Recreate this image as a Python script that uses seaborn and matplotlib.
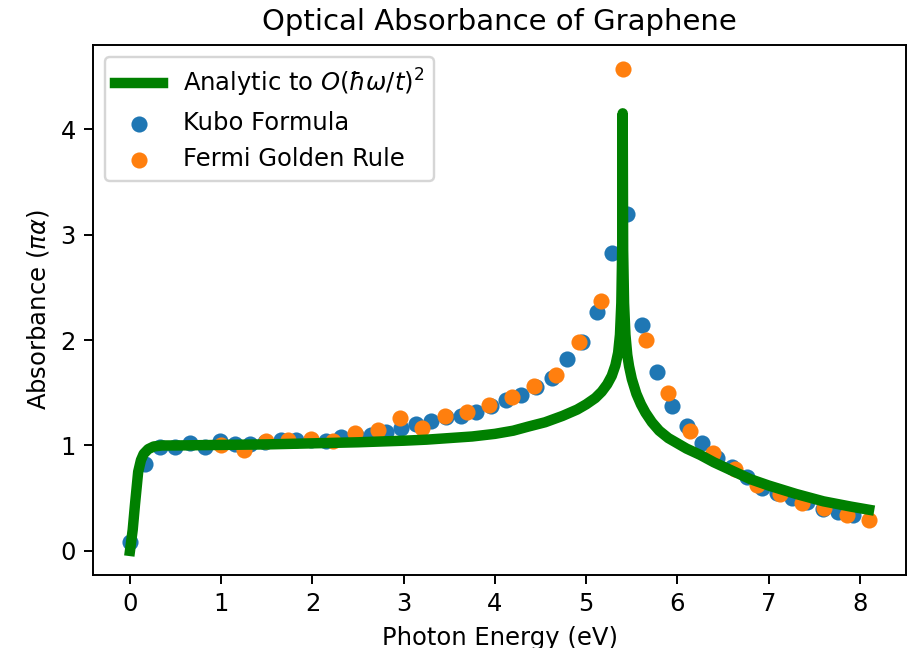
import matplotlib
matplotlib.use("Agg")
import matplotlib.pyplot as plt
import seaborn as sns
import pandas as pd

# Analytic curve
analytic_x = [0.0, 0.03, 0.055, 0.09, 0.12, 0.15, 0.2, 0.26, 0.35, 0.5, 1.0, 1.5, 2.0,
              2.5, 3.0, 3.25, 3.5, 3.75, 4.0, 4.2, 4.37, 4.55, 4.74, 4.9, 5.0, 5.1, 5.17,
              5.23, 5.28, 5.32, 5.35, 5.37, 5.385, 5.395, 5.40, 5.405, 5.415, 5.43, 5.45,
              5.47, 5.5, 5.55, 5.6, 5.65, 5.72, 5.8, 5.9, 6.0, 6.1, 6.25, 6.4, 6.6, 6.8,
              7.0, 7.3, 7.6, 7.9, 8.1]
analytic_y = [0.0, 0.2, 0.44, 0.75, 0.86, 0.92, 0.965, 0.99, 1.0, 1.0, 1.005, 1.01, 1.02,
              1.03, 1.045, 1.055, 1.07, 1.085, 1.11, 1.14, 1.18, 1.22, 1.28, 1.34, 1.39,
              1.45, 1.51, 1.58, 1.66, 1.76, 1.88, 2.05, 2.35, 2.9, 4.15, 2.85, 2.35,
              2.05, 1.86, 1.75, 1.63, 1.49, 1.39, 1.31, 1.22, 1.14, 1.07, 1.02, 0.97,
              0.91, 0.84, 0.76, 0.68, 0.62, 0.54, 0.47, 0.42, 0.39]

# Kubo formula points
kubo_x = [0.0, 0.165, 0.33, 0.495, 0.66, 0.825, 0.99, 1.155, 1.32, 1.485, 1.65, 1.815,
          1.98, 2.145, 2.31, 2.475, 2.64, 2.805, 2.97, 3.135, 3.30, 3.465, 3.63, 3.795,
          3.96, 4.125, 4.29, 4.455, 4.62, 4.785, 4.95, 5.115, 5.28, 5.445, 5.61, 5.775,
          5.94, 6.105, 6.27, 6.435, 6.60, 6.765, 6.93, 7.095, 7.26, 7.425, 7.59, 7.755, 7.92]
kubo_y = [0.08, 0.82, 0.985, 0.985, 1.02, 0.99, 1.04, 1.015, 1.015, 1.03, 1.055, 1.055,
          1.05, 1.045, 1.08, 1.10, 1.10, 1.13, 1.165, 1.20, 1.23, 1.27, 1.28, 1.32,
          1.37, 1.43, 1.48, 1.55, 1.64, 1.82, 1.98, 2.27, 2.83, 3.20, 2.14, 1.70,
          1.37, 1.18, 1.02, 0.885, 0.80, 0.70, 0.60, 0.545, 0.50, 0.46, 0.40, 0.37, 0.34]

# Fermi golden rule points
fermi_x = [1.00, 1.245, 1.49, 1.734, 1.979, 2.224, 2.469, 2.714, 2.958, 3.203, 3.448,
           3.693, 3.938, 4.182, 4.427, 4.672, 4.917, 5.162, 5.40, 5.652, 5.897, 6.141,
           6.386, 6.631, 6.876, 7.121, 7.366, 7.610, 7.855, 8.10]
fermi_y = [1.00, 0.96, 1.04, 1.05, 1.06, 1.045, 1.12, 1.15, 1.26, 1.17, 1.28,
           1.32, 1.38, 1.46, 1.56, 1.67, 1.98, 2.37, 4.57, 2.00, 1.50, 1.14,
           0.93, 0.78, 0.625, 0.54, 0.45, 0.41, 0.34, 0.29]

x_ticks = [0, 1, 2, 3, 4, 5, 6, 7, 8]
y_ticks = [0, 1, 2, 3, 4]

df_a = pd.DataFrame({"x": analytic_x, "y": analytic_y})
df_k = pd.DataFrame({"x": kubo_x, "y": kubo_y})
df_f = pd.DataFrame({"x": fermi_x, "y": fermi_y})

DPI = 175
fig = plt.figure(figsize=(920 / DPI, 648 / DPI), dpi=DPI)
ax = fig.add_axes([0.1011, 0.1127, 0.8837, 0.8179])

sns.lineplot(data=df_a, x="x", y="y", ax=ax, color="green", linewidth=4.3,
             estimator=None, sort=False, label=r"Analytic to $O(\hbar\omega/t)^2$")
sns.scatterplot(data=df_k, x="x", y="y", ax=ax, color="#1f77b4", s=44,
                linewidth=0, label="Kubo Formula")
sns.scatterplot(data=df_f, x="x", y="y", ax=ax, color="#ff7f0e", s=44,
                linewidth=0, label="Fermi Golden Rule")

ax.set_xticks(x_ticks)
ax.set_yticks(y_ticks)
ax.set_title("Optical Absorbance of Graphene", fontsize=12)
ax.set_xlabel("Photon Energy (eV)")
ax.set_ylabel(r"Absorbance ($\pi\alpha$)")
ax.legend(loc="upper left")

fig.savefig("out.png", dpi=DPI)
